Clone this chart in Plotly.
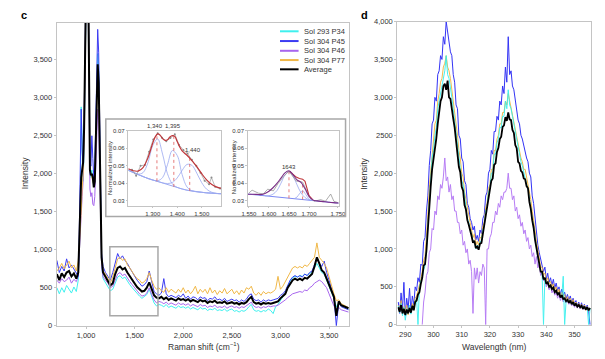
import plotly.graph_objects as go

W, H = 605, 359
def px(x): return x / W
def py(y): return 1 - y / H

# ---------------- Panel c: Raman spectra ----------------
raman_x = [700,725,750,775,800,825,850,875,900,920,930,940,950,960,970,980,990,1000,1010,1020,
           1030,1040,1050,1060,1070,1080,1090,1100,1110,1120,1130,1140,1150,1160,1175] + list(range(1200, 3701, 25))

raman_p34 = [500,420,500,440,530,480,430,510,450,600, 1000,1500,2880,2100,1900,2300,4200,5000,5200,4700,
             2800,2000,1950,2050,1900,1850,1950,2500,3300,3580, 3400,2400,1300,800,620,
             560,520,460,480,560,640,660,620,640,580,
             540,500,460,420,390,360,380,410,480,390,
             300,260,280,270,250,280,240,260,250,230,
             260,240,250,230,250,220,240,230,210,240,
             220,230,200,220,210,230,200,210,200,220,
             190,210,220,190,200,180,200,190,210,250,
             280,210,190,200,180,200,190,220,200,160,
             250,280,330,380,430,520,590,630,650,640,
             660,650,680,660,690,700,760,820,760,700,
             680,600,520,440,360,250,300,260,250,230,
             220]
raman_p45 = [860,700,780,720,880,760,800,740,700,650, 1200,1900,2850,2300,2100,2700,4600,5300,5500,5000,
             3200,2200,2100,2500,2200,1950,2050,2700,3500,3900, 3600,2500,1400,950,780,
             700,650,600,700,820,950,880,920,860,820,
             760,700,640,600,560,520,540,580,720,560,
             450,420,400,430,620,420,380,400,390,370,
             400,380,420,360,390,350,380,370,340,380,
             360,370,330,360,350,380,340,350,330,360,
             320,340,350,330,340,310,340,320,350,400,
             420,350,330,340,310,340,320,340,330,340,
             350,360,400,420,460,540,600,640,660,640,
             660,640,680,660,700,720,800,880,820,780,
             850,700,600,480,380,0,300,250,240,220,
             210]
raman_p46 = [600,560,620,580,600,640,560,610,580,650, 950,1300,1450,1700,1900,2400,4300,5000,5200,4700,
             2700,1800,1700,1750,1600,1580,1700,2200,2700,2850, 2700,2000,1150,780,640,
             600,560,500,520,600,680,700,660,680,620,
             580,540,500,450,420,390,400,430,500,410,
             340,300,320,310,290,310,280,300,290,270,
             300,280,290,270,290,260,280,270,250,280,
             260,270,240,260,250,270,240,250,240,260,
             230,250,260,240,250,230,250,240,260,290,
             310,260,240,250,230,250,240,260,250,260,
             260,270,290,320,340,370,400,420,430,440,
             450,440,470,460,500,520,560,580,600,580,
             540,500,420,330,260,220,240,210,200,190,
             180]
raman_p77 = [720,760,820,750,800,850,760,800,720,850, 1050,1400,1500,1800,2000,2500,4500,5200,5400,4900,
             3000,2050,2000,1950,1900,1850,1950,2400,3000,3300, 3100,2250,1200,880,720,
             680,620,560,640,780,880,900,860,880,800,
             760,700,660,620,600,560,580,620,700,600,
             520,480,500,460,440,500,440,480,460,430,
             480,440,500,430,470,420,460,520,420,480,
             440,480,420,500,430,470,410,460,430,490,
             420,450,480,420,460,410,470,430,500,480,
             520,430,400,440,400,450,420,440,430,450,
             480,650,480,520,580,660,720,760,780,760,
             780,760,800,780,820,860,900,1090,900,860,
             820,760,640,520,420,330,340,290,270,250,
             240]
raman_avg = [680,600,690,640,700,720,650,690,620,700, 1100,1600,1950,2050,2150,2600,4500,5200,5400,4900,
             3000,2050,1980,2000,1950,1820,1900,2400,3100,3440, 3200,2300,1250,900,700,
             640,600,530,560,680,760,780,740,760,700,
             650,600,560,510,480,450,460,500,570,480,
             400,370,360,380,350,370,340,360,350,330,
             360,340,350,330,350,320,340,330,310,340,
             320,330,300,320,310,330,300,310,300,320,
             290,300,310,290,300,280,300,290,310,350,
             380,310,290,300,280,300,290,300,290,300,
             310,320,360,390,420,500,560,600,620,600,
             620,600,630,620,650,680,780,900,820,730,
             700,620,540,460,380,130,320,270,260,240,
             230]
for s in (raman_p34, raman_p45, raman_p46, raman_p77, raman_avg):
    assert len(s) == len(raman_x), (len(s), len(raman_x))

# ---------------- Panel d: UV spectra ----------------
uv_x = [287.5 + 0.5 * i for i in range(137)]

uv_p34 = [250,160,280,120,230,60,210,150,260,140,
          230,200,310,340,0,480,580,620,720,780,
          1000,1350,1700,1900,2200,2300,2500,2600,2850,2950,
          3100,3150,3300,3350,3550,3300,3250,3150,3000,2850,
          2700,2550,2400,2200,2100,1900,1850,1650,1550,1400,
          1350,1250,1200,1100,1100,1000,1050,1000,1100,1100,
          1250,1300,1500,1550,1750,1800,2000,2000,2250,2250,
          2400,2450,2600,2600,2750,2750,2950,2850,3100,2900,
          2850,2750,2650,2500,2450,2300,2250,2150,2100,2000,
          1950,1850,1800,1650,1550,1400,1300,1150,1000,880,
          800,700,700,0,620,540,560,500,520,470,
          490,430,450,400,420,360,390,640,0,310,
          330,290,320,270,300,250,280,240,260,230,
          250,210,240,200,230,0,220]
uv_p45 = [300,150,420,200,560,120,350,200,480,180,
          380,260,500,450,620,560,800,780,1100,1150,
          1500,1700,2100,2300,2650,2700,3000,2950,3300,3350,
          3550,3500,3800,3700,4000,3850,3700,3600,3550,3300,
          3200,2900,2850,2500,2450,2200,2150,1900,1850,1600,
          1550,1400,1350,1250,1300,1120,1180,1100,1250,1200,
          1400,1450,1700,1750,2000,2050,2300,2250,2550,2550,
          2750,2700,2950,2900,3150,3050,3400,3200,3800,3300,
          3350,3150,3100,2950,2850,2700,2650,2500,2450,2350,
          2300,2200,2150,2000,1950,1700,1600,1400,1250,1050,
          950,850,800,700,760,600,680,560,620,520,
          600,480,550,450,500,400,470,380,430,340,
          400,320,380,290,350,270,320,250,300,230,
          290,220,270,200,260,190,0]
uv_p46 = [None,None,None,None,None,None,None,None,None,None,
          None,None,None,None,None,None,None,0,300,420,
          650,700,950,1000,1270,1250,1500,1450,1700,1650,
          1850,1800,1950,2200,1900,1950,1750,1850,1650,1700,
          1500,1500,1350,1350,1200,1250,1050,1100,950,1000,
          800,850,700,150,750,600,750,550,700,650,
          800,750,0,1000,1000,1150,1200,1350,1350,1500,
          1450,1600,1550,1700,1650,1750,1750,1800,2000,1800,
          1800,1650,1700,1500,1550,1400,1450,1300,1350,1200,
          1250,1100,1150,1000,1050,900,950,800,900,750,
          800,650,700,580,620,500,560,460,520,420,
          470,390,430,350,400,320,370,300,350,290,
          320,270,300,250,280,230,270,220,250,210,
          240,200,230,190,220,180,210]
uv_p77 = [260,180,320,150,240,170,260,130,230,180,
          280,230,350,380,450,520,600,700,850,900,
          1150,1450,1800,2000,2300,2400,2650,2700,2950,3050,
          3200,3250,3400,3450,3550,3400,3350,3250,3100,2950,
          2850,2650,2500,2300,2200,2000,1950,1750,1650,1500,
          1450,1300,1250,1150,1200,1050,1100,1050,1150,1150,
          1300,1350,1550,1600,1800,1850,2050,2050,2300,2300,
          2450,2500,2650,2650,2800,2800,2950,2900,3050,2950,
          2900,2800,2700,2600,2500,2350,2300,2200,2150,2050,
          2050,1950,1900,1750,1650,1500,1400,1250,1100,950,
          880,760,760,660,680,580,620,540,570,500,
          540,460,500,420,470,380,430,360,400,320,
          370,300,350,280,330,260,300,240,280,220,
          270,210,260,190,240,180,220]
uv_avg = [230,170,260,150,210,130,200,150,220,160,
          250,190,300,320,400,430,540,620,780,800,
          980,1320,1640,1820,2050,2180,2350,2460,2650,2780,
          2950,3000,3150,3180,3100,3220,3000,2980,2820,2720,
          2600,2400,2280,2080,2010,1820,1770,1580,1520,1380,
          1320,1220,1170,1080,1110,1010,1030,990,1070,1080,
          1200,1280,1450,1520,1680,1760,1900,1930,2110,2130,
          2280,2330,2450,2480,2610,2630,2740,2690,2800,2710,
          2700,2570,2530,2370,2330,2150,2130,2030,2010,1930,
          1920,1830,1800,1620,1530,1380,1280,1120,1020,880,
          820,700,700,600,620,540,560,500,520,470,
          490,430,450,400,420,360,390,340,350,310,
          330,290,320,270,300,250,280,240,260,230,
          250,210,240,200,230,190,220]
for s in (uv_p34, uv_p45, uv_p46, uv_p77, uv_avg):
    assert len(s) == len(uv_x), (len(s), len(uv_x))

# ---------------- Inset (left): 1,340 / 1,395 / 1,440 fit ----------------
inL_raw_x = [1215,1232,1250,1268,1285,1302,1320,1338,1355,1372,1390,1407,1425,1442,1460,1478,1495,1512,1530,1540,1555,1575]
inL_raw_y = [.0478,.0444,.0500,.0505,.0580,.0650,.0685,.0660,.0640,.0658,.0680,.0620,.0590,.0570,.0535,.0500,.0460,.0415,.0395,.0433,.0380,.0370]
inL_fit_x = [1200,1220,1240,1260,1280,1300,1310,1320,1330,1340,1350,1360,1370,1380,1390,1400,1410,1420,1440,1460,1480,1500,1520,1540,1560,1580]
inL_fit_y = [.0483,.0472,.0470,.0490,.0545,.0630,.0665,.0682,.0675,.0655,.0645,.0648,.0665,.0672,.0668,.0638,.0608,.0585,.0560,.0530,.0495,.0455,.0420,.0395,.0380,.0372]
inL_grid = [1200,1220,1240,1260,1280,1300,1320,1340,1360,1380,1400,1420,1440,1460,1480,1500,1520,1540,1560,1580]
inL_base = [.0475,.0462,.0450,.0439,.0428,.0419,.0411,.0402,.0393,.0384,.0376,.0368,.0361,.0356,.0352,.0349,.0346,.0344,.0342,.0341]
inL_c1 = [.0475,.0462,.0453,.0461,.0517,.0616,.0653,.0567,.0455,.0397,.0377,.0368,.0361,.0356,.0352,.0349,.0346,.0344,.0342,.0341]
inL_c2 = [.0475,.0462,.0450,.0439,.0428,.0419,.0415,.0433,.0506,.0587,.0559,.0450,.0379,.0358,.0352,.0349,.0346,.0344,.0342,.0341]
inL_c3 = [.0475,.0462,.0450,.0439,.0428,.0419,.0411,.0403,.0399,.0405,.0431,.0474,.0508,.0503,.0458,.0404,.0367,.0350,.0343,.0341]
inL_peaks = [1317, 1386, 1451]
inL_peak_top = [.0682, .0672, .0556]
inL_peak_bot = [.0412, .0380, .0357]
inL_labels = ["1,340", "1,395", "1,440"]

# ---------------- Inset (right): 1643 fit ----------------
inR_raw_x = [1550,1558,1574,1586,1597,1611,1623,1637,1650,1668,1684,1701,1713,1729,1741,1754,1762,1772]
inR_raw_y = [.0345,.0361,.0344,.0340,.0367,.0357,.0400,.0440,.0470,.0413,.0407,.0324,.0298,.0307,.0298,.0339,.0298,.0290]
inR_fit_x = [1547,1560,1570,1580,1590,1600,1610,1620,1630,1640,1650,1660,1670,1680,1690,1700,1710,1720,1730,1740,1750,1760,1774]
inR_fit_y = [.0338,.0338,.0337,.0336,.0342,.0355,.0375,.0400,.0430,.0460,.0472,.0450,.0420,.0405,.0370,.0325,.0305,.0300,.0297,.0295,.0292,.0290,.0288]
inR_red_x = [1652,1660,1668,1676,1684,1690,1695,1700,1708]
inR_red_y = [.0468,.0452,.0436,.0428,.0424,.0412,.0365,.0330,.0310]
inR_base_x = [1547,1774]
inR_base_y = [.0339,.0287]
inR_c1_x = [1590,1600,1610,1620,1630,1640,1650,1660,1670,1680,1690,1700,1710]
inR_c1_y = [.0329,.0330,.0338,.0359,.0401,.0447,.0465,.0442,.0392,.0346,.0319,.0307,.0302]
inR_c2_x = [1664,1670,1676,1684,1692,1698,1704]
inR_c2_y = [.0314,.0322,.0340,.0358,.0336,.0316,.0305]
inR_peaks = [1650, 1684]
inR_peak_top = [.0468, .0405]
inR_peak_bot = [.0315, .0308]

# ---------------- Legend ----------------
series_names = ["Sol 293 P34", "Sol 304 P45", "Sol 304 P46", "Sol 304 P77", "Average"]
colors = {"p34": "#3ff0ee", "p45": "#3b3bf2", "p46": "#a866ee", "p77": "#f0b848", "avg": "#000000"}
uv_colors = {"p34": "#33f0ee", "p45": "#1f1ff5", "p46": "#b070f5", "p77": "#f2b33c", "avg": "#000000"}

FONT = "Liberation Sans, Arial, sans-serif"
fig = go.Figure()

for key, ys in [("p34", raman_p34), ("p46", raman_p46), ("p45", raman_p45), ("p77", raman_p77)]:
    fig.add_trace(go.Scatter(x=raman_x, y=ys, mode="lines", line=dict(color=colors[key], width=1),
                             xaxis="x", yaxis="y", showlegend=False, hoverinfo="skip"))
fig.add_trace(go.Scatter(x=raman_x, y=raman_avg, mode="lines", line=dict(color="#000", width=2),
                         xaxis="x", yaxis="y", showlegend=False, hoverinfo="skip"))

for key, ys in [("p45", uv_p45), ("p46", uv_p46), ("p77", uv_p77), ("p34", uv_p34)]:
    fig.add_trace(go.Scatter(x=uv_x, y=ys, mode="lines", line=dict(color=uv_colors[key], width=1),
                             opacity=0.9, xaxis="x2", yaxis="y2", showlegend=False, hoverinfo="skip"))
fig.add_trace(go.Scatter(x=uv_x, y=uv_avg, mode="lines", line=dict(color="#000", width=1.8),
                         xaxis="x2", yaxis="y2", showlegend=False, hoverinfo="skip"))

comp_col = "#9aa8f0"
fig.add_trace(go.Scatter(x=inL_grid, y=inL_base, mode="lines", line=dict(color="#8f9ff0", width=0.9),
                         xaxis="x3", yaxis="y3", showlegend=False, hoverinfo="skip"))
for comp in (inL_c1, inL_c2, inL_c3):
    fig.add_trace(go.Scatter(x=inL_grid, y=comp, mode="lines", line=dict(color=comp_col, width=0.8, shape="spline"),
                             xaxis="x3", yaxis="y3", showlegend=False, hoverinfo="skip"))
for i in range(3):
    fig.add_trace(go.Scatter(x=[inL_peaks[i]] * 2, y=[inL_peak_bot[i], inL_peak_top[i]], mode="lines",
                             line=dict(color="#e05a5a", width=0.8, dash="dot"),
                             xaxis="x3", yaxis="y3", showlegend=False, hoverinfo="skip"))
fig.add_trace(go.Scatter(x=inL_raw_x, y=inL_raw_y, mode="lines+markers", line=dict(color="#9a9a9a", width=0.7),
                         marker=dict(size=2, color="#8a8a8a"),
                         xaxis="x3", yaxis="y3", showlegend=False, hoverinfo="skip"))
fig.add_trace(go.Scatter(x=inL_fit_x, y=inL_fit_y, mode="lines", line=dict(color="#c0363a", width=1.2, shape="spline"),
                         xaxis="x3", yaxis="y3", showlegend=False, hoverinfo="skip"))

fig.add_trace(go.Scatter(x=inR_base_x, y=inR_base_y, mode="lines", line=dict(color="#6d7cf0", width=0.9),
                         xaxis="x4", yaxis="y4", showlegend=False, hoverinfo="skip"))
for cx, cy in ((inR_c1_x, inR_c1_y), (inR_c2_x, inR_c2_y)):
    fig.add_trace(go.Scatter(x=cx, y=cy, mode="lines", line=dict(color=comp_col, width=0.8, shape="spline"),
                             xaxis="x4", yaxis="y4", showlegend=False, hoverinfo="skip"))
for i in range(2):
    fig.add_trace(go.Scatter(x=[inR_peaks[i]] * 2, y=[inR_peak_bot[i], inR_peak_top[i]], mode="lines",
                             line=dict(color="#e05a5a", width=0.8, dash="dot"),
                             xaxis="x4", yaxis="y4", showlegend=False, hoverinfo="skip"))
fig.add_trace(go.Scatter(x=inR_raw_x, y=inR_raw_y, mode="lines", line=dict(color="#8a8a8a", width=0.7),
                         xaxis="x4", yaxis="y4", showlegend=False, hoverinfo="skip"))
fig.add_trace(go.Scatter(x=inR_red_x, y=inR_red_y, mode="lines", line=dict(color="#c0363a", width=1.1),
                         xaxis="x4", yaxis="y4", showlegend=False, hoverinfo="skip"))
fig.add_trace(go.Scatter(x=inR_fit_x, y=inR_fit_y, mode="lines", line=dict(color="#7a2e86", width=1.1, shape="spline"),
                         xaxis="x4", yaxis="y4", showlegend=False, hoverinfo="skip"))

LC = "#c4c4c4"
def ax(**kw):
    base = dict(showline=True, linecolor=LC, linewidth=1.3, mirror=True, showgrid=False, zeroline=False,
                ticks="outside", ticklen=2, tickcolor=LC, tickwidth=1,
                tickfont=dict(size=7.5, color="#333", family=FONT), fixedrange=True)
    base.update(kw)
    return base

small = dict(size=6, color="#333", family=FONT)

fig.update_layout(
    width=W, height=H, margin=dict(l=0, r=0, t=0, b=0),
    paper_bgcolor="white", plot_bgcolor="white", showlegend=False,
    font=dict(family=FONT, color="#222"),
    xaxis=ax(domain=[px(52), px(351)], range=[700, 3710], anchor="y",
             tickvals=[1000, 1500, 2000, 2500, 3000, 3500],
             ticktext=["1,000", "1,500", "2,000", "2,500", "3,000", "3,500"]),
    yaxis=ax(domain=[py(330), py(19)], range=[0, 3990], anchor="x",
             tickvals=[0, 500, 1000, 1500, 2000, 2500, 3000, 3500],
             ticktext=["0", "500", "1,000", "1,500", "2,000", "2,500", "3,000", "3,500"]),
    xaxis2=ax(domain=[px(400), px(598)], range=[287.2, 355.9], anchor="y2",
              tickvals=[290, 300, 310, 320, 330, 340, 350]),
    yaxis2=ax(domain=[py(329), py(18)], range=[0, 4000], anchor="x2",
              tickvals=[0, 500, 1000, 1500, 2000, 2500, 3000, 3500, 4000],
              ticktext=["0", "500", "1,000", "1,500", "2,000", "2500", "3,000", "3,500", "4,000"]),
    xaxis3=ax(domain=[px(125), px(220)], range=[1200, 1580], anchor="y3", ticklen=1.5, tickfont=small,
              tickvals=[1300, 1400, 1500], ticktext=["1,300", "1,400", "1,500"], linewidth=1),
    yaxis3=ax(domain=[py(207), py(130)], range=[0.0272, 0.07], anchor="x3", ticklen=1.5, tickfont=small,
              tickvals=[0.03, 0.04, 0.05, 0.06, 0.07], ticktext=["0.03", "0.04", "0.05", "0.06", "0.07"], linewidth=1),
    xaxis4=ax(domain=[px(247), px(340)], range=[1547, 1774], anchor="y4", ticklen=1.5, tickfont=small,
              tickvals=[1550, 1600, 1650, 1700, 1772], ticktext=["1,550", "1,600", "1,650", "1,700", "1,750"], linewidth=1),
    yaxis4=ax(domain=[py(207), py(130)], range=[0.0272, 0.07], anchor="x4", ticklen=1.5, tickfont=small,
              tickvals=[0.03, 0.04, 0.05, 0.06, 0.07], ticktext=["0.03", "0.04", "0.05", "0.06", "0.07"], linewidth=1),
)

shapes = []
shapes.append(dict(type="rect", xref="x", yref="y", x0=1245, x1=1740, y0=130, y1=1040,
                   line=dict(color="#a8a8a8", width=1.5), fillcolor="rgba(0,0,0,0)"))
shapes.append(dict(type="rect", xref="paper", yref="paper", x0=px(102), x1=px(347), y0=py(218), y1=py(118),
                   line=dict(color="#a8a8a8", width=1.5), fillcolor="rgba(0,0,0,0)"))
leg_keys = ["p34", "p45", "p46", "p77", "avg"]
leg_y = [28, 38, 48, 57.5, 67]
annotations = []
for name, key, yy in zip(series_names, leg_keys, leg_y):
    shapes.append(dict(type="line", xref="paper", yref="paper", x0=px(280), x1=px(299), y0=py(yy), y1=py(yy),
                       line=dict(color=colors[key], width=2)))
    annotations.append(dict(x=px(303), y=py(yy), xref="paper", yref="paper", text=name, showarrow=False,
                            xanchor="left", yanchor="middle", font=dict(size=7.5, color="#333", family=FONT)))

annotations += [
    dict(x=px(18), y=py(11), text="c", font=dict(size=11, color="#000", family=FONT, weight="bold")),
    dict(x=px(366), y=py(11), text="d", font=dict(size=11, color="#000", family=FONT, weight="bold")),
    dict(x=px(19), y=py(174), text="Intensity", textangle=-90, font=dict(size=8.5, color="#333", family=FONT)),
    dict(x=px(365), y=py(174), text="Intensity", textangle=-90, font=dict(size=8.5, color="#333", family=FONT)),
    dict(x=px(202), y=py(351), text="Raman shift (cm<sup>−1</sup>)", font=dict(size=8.5, color="#333", family=FONT)),
    dict(x=px(499), y=py(352), text="Wavelength (nm)", font=dict(size=8.5, color="#333", family=FONT)),
    dict(x=px(106.5), y=py(168), text="Normalized intensity", textangle=-90, font=small),
    dict(x=px(232.5), y=py(168), text="Normalized intensity", textangle=-90, font=small),
    dict(x=px(152.7), y=py(125.5), text=inL_labels[0], font=small),
    dict(x=px(171), y=py(125.5), text=inL_labels[1], font=small),
    dict(x=px(191), y=py(150), text=inL_labels[2], font=small),
    dict(x=px(289.3), y=py(167), text="1643", font=small),
]
for a in annotations:
    a.setdefault("xref", "paper"); a.setdefault("yref", "paper"); a.setdefault("showarrow", False)
    a.setdefault("xanchor", "center"); a.setdefault("yanchor", "middle")

fig.update_layout(shapes=shapes, annotations=annotations)
fig.write_html("out.html", config={"displayModeBar": False, "responsive": False},
               post_script="document.body.style.margin='0';document.body.style.padding='0';document.body.style.overflow='hidden';")
